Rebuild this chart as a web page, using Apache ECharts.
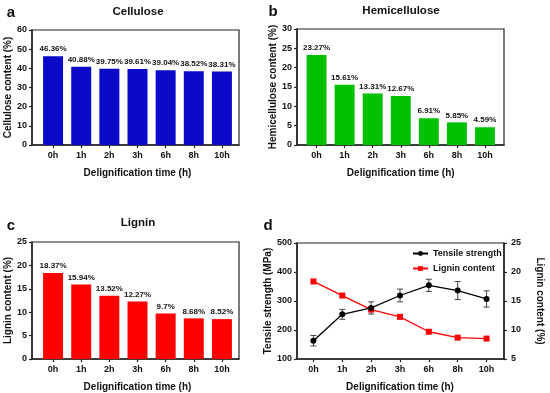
<!DOCTYPE html>
<html><head><meta charset="utf-8">
<script src="https://cdn.jsdelivr.net/npm/echarts@6/dist/echarts.min.js"></script>
<style>html,body{margin:0;padding:0;background:#fff}#c{width:550px;height:393px}</style>
</head><body><div id="c"></div>
<script>
const categories = ['0h','1h','2h','3h','6h','8h','10h'];
const cellulose = [46.36, 40.88, 39.75, 39.61, 39.04, 38.52, 38.31];
const hemicellulose = [23.27, 15.61, 13.31, 12.67, 6.91, 5.85, 4.59];
const lignin = [18.37, 15.94, 13.52, 12.27, 9.7, 8.68, 8.52];
const tensile = [163, 254, 276, 319, 354, 336, 307];
const tensileErr = [18, 17, 21, 22, 21, 31, 28];

const FF = "'Liberation Sans', Arial, sans-serif";
const chart = echarts.init(document.getElementById('c'), null, {renderer: 'canvas'});

// outer frames (axes box) and inner plotting areas (category padding like the original)
const outer = [
  {left: 32, top: 30, width: 207, height: 115},
  {left: 297, top: 29, width: 207, height: 116},
  {left: 32, top: 242, width: 207, height: 117},
  {left: 297, top: 243, width: 207, height: 116}
].map(g => Object.assign(g, {show: true, borderColor: '#222', borderWidth: 1.2, backgroundColor: 'transparent'}));
const inner = [
  {left: 39, top: 30, width: 197, height: 115},
  {left: 302.5, top: 29, width: 196.5, height: 116},
  {left: 39, top: 242, width: 197, height: 117},
  {left: 299, top: 243, width: 202, height: 116}
];

const lbl = {fontFamily: FF, fontWeight: 'bold', fontSize: 9, color: '#111'};
const nm = {fontFamily: FF, fontWeight: 'bold', fontSize: 10, color: '#111'};

function xOuter(i) {
  return {type: 'value', gridIndex: i, min: 0, max: 1,
    axisLine: {show: true, onZero: false, lineStyle: {color: '#222', width: 1.5}},
    axisTick: {show: false}, axisLabel: {show: false}, splitLine: {show: false}};
}
function xInner(i) {
  return {
    type: 'category', gridIndex: i, data: categories,
    name: 'Delignification time (h)', nameLocation: 'middle', nameGap: 23, nameTextStyle: nm,
    axisLine: {show: false},
    axisTick: {show: true, alignWithLabel: true, length: 3, lineStyle: {color: '#222', width: 1.2}},
    axisLabel: Object.assign({margin: 6}, lbl),
    splitLine: {show: false}
  };
}
function yAx(i, name, min, max, interval, gap, extra) {
  return Object.assign({
    type: 'value', gridIndex: i, min: min, max: max, interval: interval,
    name: name, nameLocation: 'middle', nameGap: gap, nameTextStyle: nm,
    axisLine: {show: true, lineStyle: {color: '#222', width: 1.5}},
    axisTick: {show: true, length: 3, lineStyle: {color: '#222', width: 1.2}},
    axisLabel: Object.assign({margin: 5}, lbl),
    splitLine: {show: false}
  }, extra || {});
}
function yHidden(i, min, max, extra) {
  return Object.assign({type: 'value', gridIndex: i, min: min, max: max, show: false, splitLine: {show: false}}, extra || {});
}

function barSeries(xi, yi, data, color) {
  return {
    type: 'bar', xAxisIndex: xi, yAxisIndex: yi, data: data,
    barCategoryGap: '29%',
    itemStyle: {color: color},
    label: {show: true, position: 'top', distance: 3, formatter: p => p.value + '%',
      fontFamily: FF, fontWeight: 'bold', fontSize: 8, color: '#111'}
  };
}

const errData = tensile.map((v, i) => [i, v - tensileErr[i], v + tensileErr[i]]);

const textStyle = (s, size) => ({text: s, fontFamily: FF, fontWeight: 'bold', fontSize: size, fill: '#111', align: 'center', verticalAlign: 'middle'});

chart.setOption({
  animation: false,
  textStyle: {fontFamily: FF},
  grid: outer.concat(inner),
  xAxis: [xOuter(0), xOuter(1), xOuter(2), xOuter(3), xInner(4), xInner(5), xInner(6), xInner(7)],
  yAxis: [
    yAx(0, 'Cellulose content (%)', 0, 60, 10, 16),
    yAx(1, 'Hemicellulose content (%)', 0, 30, 5, 16),
    yAx(2, 'Lignin content (%)', 0, 25, 5, 16),
    yAx(3, 'Tensile strength (MPa)', 100, 500, 100, 23),
    yAx(3, 'Lignin content (%)', 5, 25, 5, 31, {position: 'right', nameRotate: -90, axisLabel: Object.assign({margin: 7}, lbl)}),
    yHidden(4, 0, 60),
    yHidden(5, 0, 30),
    yHidden(6, 0, 25),
    yHidden(7, 100, 500),
    yHidden(7, 5, 25, {position: 'right'})
  ],
  legend: {
    orient: 'vertical', left: 407, top: 244, itemWidth: 15, itemHeight: 6, itemGap: 6,
    data: ['Tensile strength', 'Lignin content'],
    textStyle: {fontFamily: FF, fontWeight: 'bold', fontSize: 9, color: '#111'}
  },
  series: [
    barSeries(4, 5, cellulose, '#0a0ac8'),
    barSeries(5, 6, hemicellulose, '#00c000'),
    barSeries(6, 7, lignin, '#ff0000'),
    {
      type: 'custom', xAxisIndex: 7, yAxisIndex: 8, data: errData, z: 1,
      renderItem: function (params, api) {
        const x = api.value(0);
        const lo = api.coord([x, api.value(1)]);
        const hi = api.coord([x, api.value(2)]);
        const w = 3;
        const st = {stroke: '#444', lineWidth: 1};
        return {type: 'group', children: [
          {type: 'line', shape: {x1: lo[0], y1: lo[1], x2: hi[0], y2: hi[1]}, style: st},
          {type: 'line', shape: {x1: lo[0]-w, y1: lo[1], x2: lo[0]+w, y2: lo[1]}, style: st},
          {type: 'line', shape: {x1: hi[0]-w, y1: hi[1], x2: hi[0]+w, y2: hi[1]}, style: st}
        ]};
      }
    },
    {
      name: 'Tensile strength', type: 'line', xAxisIndex: 7, yAxisIndex: 8, data: tensile,
      symbol: 'circle', symbolSize: 6, z: 3,
      lineStyle: {color: '#000', width: 1.3}, itemStyle: {color: '#000'}
    },
    {
      name: 'Lignin content', type: 'line', xAxisIndex: 7, yAxisIndex: 9, data: lignin,
      symbol: 'rect', symbolSize: 6, z: 2,
      lineStyle: {color: '#ff0000', width: 1.3}, itemStyle: {color: '#ff0000'}
    }
  ],
  graphic: [
    {type: 'text', x: 11, y: 13, style: textStyle('a', 15)},
    {type: 'text', x: 273, y: 12, style: textStyle('b', 15)},
    {type: 'text', x: 11, y: 226, style: textStyle('c', 15)},
    {type: 'text', x: 268, y: 226, style: textStyle('d', 15)},
    {type: 'text', x: 138, y: 12, style: textStyle('Cellulose', 11.5)},
    {type: 'text', x: 401, y: 11, style: textStyle('Hemicellulose', 11.5)},
    {type: 'text', x: 138, y: 223, style: textStyle('Lignin', 11.5)}
  ]
});
</script></body></html>
